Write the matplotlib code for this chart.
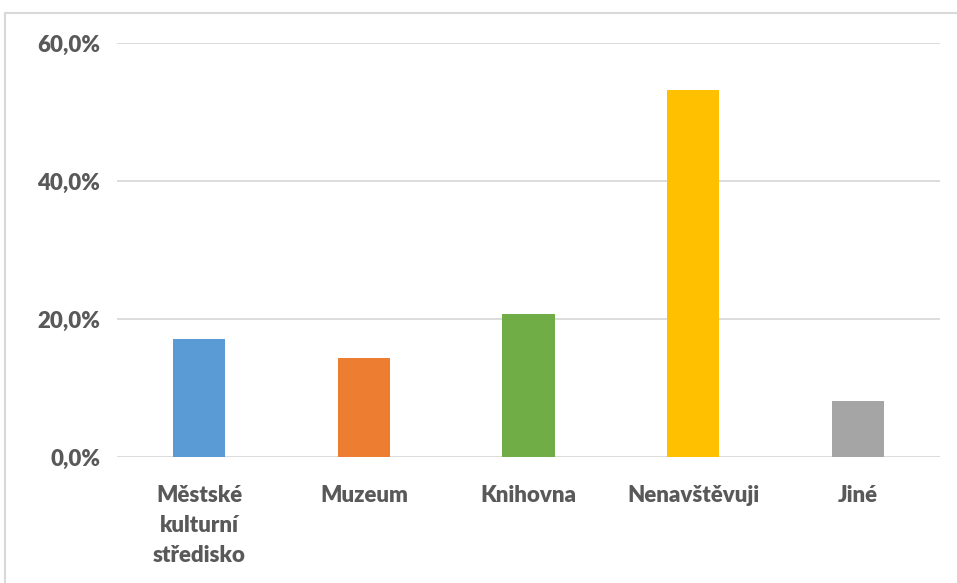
import matplotlib
matplotlib.use("Agg")
import matplotlib.pyplot as plt
from matplotlib.patches import Rectangle

categories = ["Městské\nkulturní\nstředisko", "Muzeum", "Knihovna", "Nenavštěvuji", "Jiné"]
values = [17.1, 14.3, 20.7, 53.2, 8.1]
colors = ["#5B9BD5", "#ED7D31", "#70AD47", "#FFC000", "#A5A5A5"]
yticks = [0, 20, 40, 60]
ytick_labels = ["0,0%", "20,0%", "40,0%", "60,0%"]

plt.rcParams['font.family'] = ['Lato', 'DejaVu Sans']

fig = plt.figure(figsize=(9.57, 5.83), dpi=100)
fig.patches.append(Rectangle((5/957, -0.1), 1.2, (583-13)/583 + 0.1, transform=fig.transFigure,
                             fill=False, edgecolor="#d9d9d9", linewidth=1.5))
ax = fig.add_axes([117/957, (583-457)/583, (940-117)/957, (457-43)/583])

x = range(len(categories))
ax.bar(x, values, width=0.316, color=colors, zorder=3)
ax.set_xlim(-0.5, len(categories) - 0.5)
ax.set_ylim(0, 60)
ax.set_yticks(yticks)
ax.set_yticklabels(ytick_labels)
ax.set_xticks(list(x))
ax.set_xticklabels(categories, linespacing=1.55, va="top")
ax.grid(axis="y", color="#d9d9d9", linewidth=1.3, zorder=0)
for s in ax.spines.values():
    s.set_visible(False)
ax.tick_params(axis="both", length=0, labelsize=16, labelcolor="#595959")
ax.tick_params(axis="x", pad=20)
ax.tick_params(axis="y", pad=12)
for lab in ax.get_xticklabels() + ax.get_yticklabels():
    lab.set_fontweight("heavy")

fig.savefig("out.png", dpi=100)
